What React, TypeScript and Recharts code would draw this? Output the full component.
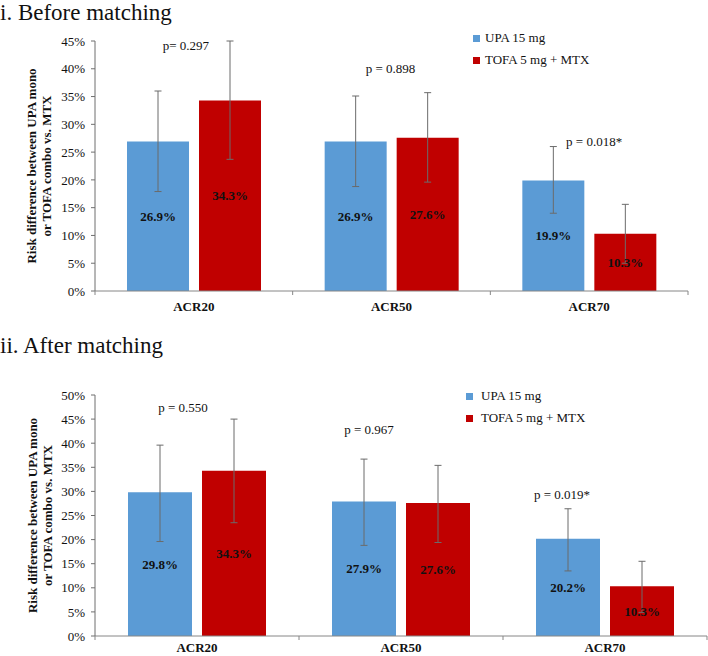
import { Bar, BarChart, ErrorBar, LabelList, Legend, ReferenceDot, XAxis, YAxis } from "recharts";

const categories = ["ACR20", "ACR50", "ACR70"];
const seriesNames = ["UPA 15 mg", "TOFA 5 mg + MTX"];

// i. Before matching
const beforeUpa = [26.9, 26.9, 19.9];
const beforeUpaLow = [17.9, 18.8, 14.0];
const beforeUpaHigh = [36.0, 35.1, 26.0];
const beforeTofa = [34.3, 27.6, 10.3];
const beforeTofaLow = [23.7, 19.6, 5.0];
const beforeTofaHigh = [45.0, 35.7, 15.6];
const beforeP = ["p= 0.297", "p = 0.898", "p = 0.018*"];
const beforeTicks = [0, 5, 10, 15, 20, 25, 30, 35, 40, 45];

// ii. After matching
const afterUpa = [29.8, 27.9, 20.2];
const afterUpaLow = [19.6, 18.8, 13.5];
const afterUpaHigh = [39.6, 36.7, 26.4];
const afterTofa = [34.3, 27.6, 10.3];
const afterTofaLow = [23.5, 19.4, 4.9];
const afterTofaHigh = [45.0, 35.4, 15.5];
const afterP = ["p = 0.550", "p = 0.967", "p = 0.019*"];
const afterTicks = [0, 5, 10, 15, 20, 25, 30, 35, 40, 45, 50];

// where the p-value notes sit (in axis units) and their sideways nudge
const beforePAt = [44.2, 40.0, 27.0];
const beforePDx = [-8, -1, 5];
const afterPAt = [47.5, 42.9, 29.3];
const afterPDx = [-14, -32, -43];

const BLUE = "#5B9BD5";
const RED = "#C00000";
const AXIS = "#868686";
const SERIF = '"Liberation Serif", "Times New Roman", serif';

function buildRows(upa: number[], upaLo: number[], upaHi: number[], tofa: number[], tofaLo: number[], tofaHi: number[]) {
  return categories.map((name, i) => ({
    name,
    upa: upa[i],
    upaErr: [+(upa[i] - upaLo[i]).toFixed(2), +(upaHi[i] - upa[i]).toFixed(2)],
    tofa: tofa[i],
    tofaErr: [+(tofa[i] - tofaLo[i]).toFixed(2), +(tofaHi[i] - tofa[i]).toFixed(2)],
  }));
}

const beforeRows = buildRows(beforeUpa, beforeUpaLow, beforeUpaHigh, beforeTofa, beforeTofaLow, beforeTofaHigh);
const afterRows = buildRows(afterUpa, afterUpaLow, afterUpaHigh, afterTofa, afterTofaLow, afterTofaHigh);

function makeCatTick(band: number, labelDy: number) {
  return (props: any) => {
    const { x, y, payload, index } = props;
    const half = payload?.offset ?? band / 2;
    return (
      <g>
        {index === 0 && <line x1={x - half} y1={y} x2={x - half} y2={y + 4} stroke={AXIS} />}
        <line x1={x + half} y1={y} x2={x + half} y2={y + 4} stroke={AXIS} />
        <text x={x} y={y + labelDy} textAnchor="middle" fontFamily={SERIF} fontSize={13} fontWeight="bold" fill="#111">
          {payload.value}
        </text>
      </g>
    );
  };
}

function makeYTitle(baseX: number) {
  return (props: any) => {
    const vb = props.viewBox;
    const cy = vb.y + vb.height / 2;
    return (
      <text
        transform={`translate(${baseX}, ${cy}) rotate(-90)`}
        textAnchor="middle"
        fontFamily={SERIF}
        fontSize={13}
        fontWeight="bold"
        fill="#111"
      >
        <tspan x={0} y={0}>Risk difference between UPA mono</tspan>
        <tspan x={0} y={14.5}>or TOFA combo vs. MTX</tspan>
      </text>
    );
  };
}

function makeLegend(squareGap: number) {
  return (props: any) => {
    const items = [...(props.payload || [])].sort(
      (a: any, b: any) => seriesNames.indexOf(a.value) - seriesNames.indexOf(b.value)
    );
    return (
      <div style={{ fontFamily: SERIF, fontSize: 13, color: "#111" }}>
        {items.map((p: any) => (
          <div key={p.value} style={{ height: 22, display: "flex", alignItems: "center", whiteSpace: "nowrap" }}>
            <span style={{ width: 7, height: 7, background: p.color, display: "inline-block", marginRight: squareGap }} />
            <span>{p.value}</span>
          </div>
        ))}
      </div>
    );
  };
}

function pNote(text: string, dx: number) {
  return (props: any) => {
    const vb = props.viewBox;
    return (
      <text x={vb.x + dx} y={vb.y} dy="0.35em" textAnchor="middle" fontFamily={SERIF} fontSize={13} fill="#111">
        {text}
      </text>
    );
  };
}

type PanelProps = {
  rows: any[];
  ticks: number[];
  pText: string[];
  pAt: number[];
  pDx: number[];
  width: number;
  height: number;
  margin: { top: number; right: number; bottom: number; left: number };
  xAxisHeight: number;
  labelDy: number;
  barSize: number;
  legendPos: { left: number; top: number };
  legendGap: number;
  titleX: number;
};

function Panel(p: PanelProps) {
  const band = (p.width - p.margin.left - p.margin.right - 95) / categories.length;
  const barLabel = (v: any) => `${Number(v).toFixed(1)}%`;
  return (
    <BarChart width={p.width} height={p.height} data={p.rows} margin={p.margin} barSize={p.barSize} barGap={10}>
      <XAxis
        dataKey="name"
        height={p.xAxisHeight}
        axisLine={{ stroke: AXIS }}
        tickLine={false}
        tickSize={0}
        tickMargin={0}
        interval={0}
        tick={makeCatTick(band, p.labelDy)}
      />
      <YAxis
        width={95}
        domain={[0, p.ticks[p.ticks.length - 1]]}
        ticks={p.ticks}
        interval={0}
        tickFormatter={(v: number) => `${v}%`}
        axisLine={{ stroke: "#6f6f6f" }}
        tickLine={{ stroke: "#6f6f6f" }}
        tickSize={4}
        tickMargin={6}
        tick={{ fontFamily: SERIF, fontSize: 13, fill: "#111" }}
        label={{ content: makeYTitle(p.titleX) }}
      />
      <Legend
        layout="horizontal"
        verticalAlign="middle"
        align="center"
        content={makeLegend(p.legendGap)}
        wrapperStyle={{ left: p.legendPos.left, top: p.legendPos.top, width: 160 }}
      />
      <Bar dataKey="upa" name={seriesNames[0]} fill={BLUE} isAnimationActive={false}>
        <ErrorBar dataKey="upaErr" width={3.5} stroke="#6b6b6b" strokeWidth={1} direction="y" isAnimationActive={false} />
        <LabelList
          dataKey="upa"
          position="center"
          formatter={barLabel}
          fontFamily={SERIF}
          fontSize={13}
          fontWeight="bold"
          fill="#111"
        />
      </Bar>
      <Bar dataKey="tofa" name={seriesNames[1]} fill={RED} isAnimationActive={false}>
        <ErrorBar dataKey="tofaErr" width={3.5} stroke="#6b6b6b" strokeWidth={1} direction="y" isAnimationActive={false} />
        <LabelList
          dataKey="tofa"
          position="center"
          formatter={barLabel}
          fontFamily={SERIF}
          fontSize={13}
          fontWeight="bold"
          fill="#111"
        />
      </Bar>
      {categories.map((c, i) => (
        <ReferenceDot
          key={c}
          x={c}
          y={p.pAt[i]}
          r={0}
          fill="none"
          stroke="none"
          ifOverflow="visible"
          label={pNote(p.pText[i], p.pDx[i])}
        />
      ))}
    </BarChart>
  );
}

const titleStyle = {
  position: "absolute" as const,
  left: 0,
  fontFamily: SERIF,
  fontSize: 23,
  lineHeight: "26px",
  color: "#111",
  whiteSpace: "nowrap" as const,
};

export default function App() {
  return (
    <div style={{ position: "absolute", left: 0, top: 0, width: 708, height: 656, background: "#fff", overflow: "hidden" }}>
      <div style={{ position: "absolute", left: 0, top: 0 }}>
        <Panel
          rows={beforeRows}
          ticks={beforeTicks}
          pText={beforeP}
          pAt={beforePAt}
          pDx={beforePDx}
          width={708}
          height={320}
          margin={{ top: 41, right: 20, bottom: 0, left: 0 }}
          xAxisHeight={29}
          labelDy={20}
          barSize={62}
          legendPos={{ left: 473, top: 27 }}
          legendGap={5}
          titleX={36}
        />
      </div>
      <div style={{ position: "absolute", left: 0, top: 330 }}>
        <Panel
          rows={afterRows}
          ticks={afterTicks}
          pText={afterP}
          pAt={afterPAt}
          pDx={afterPDx}
          width={708}
          height={326}
          margin={{ top: 65, right: 1, bottom: 0, left: 0 }}
          xAxisHeight={20}
          labelDy={16}
          barSize={64}
          legendPos={{ left: 466, top: 55 }}
          legendGap={8}
          titleX={37}
        />
      </div>
      <div style={{ ...titleStyle, top: 0 }}>i. Before matching</div>
      <div style={{ ...titleStyle, top: 333 }}>ii. After matching</div>
    </div>
  );
}
